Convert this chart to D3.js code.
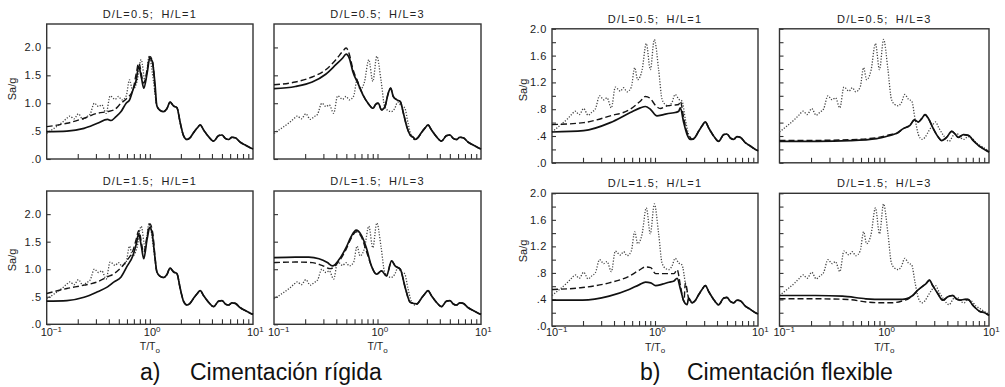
<!DOCTYPE html>
<html>
<head>
<meta charset="utf-8">
<script src="https://cdn.jsdelivr.net/npm/d3@7"></script>
<style>
  body { margin: 0; background: #fff; }
  svg { font-family: "Liberation Sans", Arial, sans-serif; }
</style>
</head>
<body>
<svg id="chart" width="1005" height="387"></svg>
<script>
// ---- data (T/To, Sa/g) ----
// fixed-base spectrum (dotted), same in every panel
const fixedBase = [[0.10,0.46],[0.12,0.56],[0.14,0.65],[0.155,0.72],[0.168,0.77],[0.184,0.72],[0.203,0.81],[0.224,0.71],[0.245,0.76],[0.263,0.80],[0.29,1.00],[0.318,0.94],[0.342,0.97],[0.377,0.82],[0.412,1.13],[0.461,1.07],[0.496,1.12],[0.535,1.06],[0.589,1.13],[0.635,1.42],[0.679,1.24],[0.748,1.38],[0.824,1.78],[0.901,1.39],[0.985,1.84],[1.085,1.39],[1.17,0.95],[1.26,0.87],[1.36,0.85],[1.46,0.90],[1.57,1.02],[1.70,0.95],[1.83,0.92],[1.97,0.65],[2.12,0.42],[2.29,0.35],[2.45,0.38],[2.65,0.47],[2.86,0.55],[3.08,0.61],[3.32,0.52],[3.71,0.40],[4.15,0.32],[4.64,0.42],[5.0,0.43],[5.39,0.37],[5.81,0.35],[6.25,0.39],[6.73,0.38],[7.53,0.30],[8.43,0.25],[9.42,0.20],[10,0.18]];

// a) cimentación rígida
const rigid05h1Solid = [[0.10,0.49],[0.157,0.50],[0.23,0.55],[0.31,0.64],[0.389,0.71],[0.42,0.69],[0.47,0.76],[0.526,0.85],[0.589,1.0],[0.636,1.06],[0.686,1.24],[0.739,1.42],[0.779,1.66],[0.83,1.45],[0.873,1.27],[0.941,1.54],[1.0,1.81],[1.055,1.75],[1.12,1.36]];
const rigid05h1Dashed = [[0.10,0.58],[0.157,0.64],[0.23,0.73],[0.31,0.82],[0.389,0.85],[0.45,0.88],[0.526,1.0],[0.6,1.09],[0.686,1.24],[0.739,1.54],[0.779,1.72],[0.873,1.36],[0.941,1.6],[1.0,1.84],[1.07,1.72],[1.13,1.18]];
const rigid05h3Solid = [[0.10,1.26],[0.161,1.30],[0.234,1.38],[0.316,1.52],[0.396,1.69],[0.461,1.81],[0.497,1.88],[0.536,1.80],[0.577,1.57],[0.646,1.36],[0.723,1.15],[0.81,1.0],[0.907,0.91],[0.96,0.98],[1.016,1.0],[1.094,0.88],[1.18,0.94],[1.27,1.18],[1.34,1.27],[1.42,1.12],[1.54,1.06],[1.66,1.03],[1.78,0.82],[1.92,0.58],[2.07,0.43],[2.24,0.38]];
const rigid05h3Dashed = [[0.10,1.33],[0.161,1.38],[0.234,1.47],[0.316,1.60],[0.396,1.78],[0.461,1.93],[0.497,1.99],[0.536,1.87],[0.577,1.62],[0.646,1.38]];
const rigid15h1Solid = [[0.10,0.42],[0.157,0.43],[0.23,0.49],[0.31,0.59],[0.389,0.68],[0.45,0.77],[0.526,0.86],[0.6,1.05],[0.686,1.25],[0.739,1.46],[0.779,1.64],[0.83,1.40],[0.873,1.19],[0.941,1.55],[1.0,1.76],[1.055,1.64],[1.12,1.22]];
const rigid15h1Dashed = [[0.10,0.56],[0.157,0.65],[0.23,0.71],[0.31,0.77],[0.389,0.86],[0.45,0.92],[0.526,1.03],[0.6,1.16],[0.686,1.34],[0.739,1.55],[0.779,1.70],[0.873,1.31],[0.941,1.61],[1.0,1.82],[1.07,1.64],[1.13,1.16]];
const rigid15h3Solid = [[0.10,1.21],[0.161,1.22],[0.217,1.22],[0.272,1.19],[0.328,1.12],[0.368,1.06],[0.427,1.18],[0.497,1.39],[0.556,1.59],[0.622,1.71],[0.697,1.62],[0.78,1.39],[0.873,1.06],[0.978,0.91],[1.094,0.97],[1.22,0.88],[1.37,1.15],[1.48,1.06],[1.66,1.0],[1.85,0.67],[2.07,0.40],[2.41,0.37]];
const rigid15h3Dashed = [[0.10,1.12],[0.161,1.13],[0.234,1.12],[0.29,1.07],[0.35,1.01],[0.415,1.12],[0.497,1.36],[0.556,1.56],[0.622,1.68],[0.697,1.59],[0.78,1.33]];

// b) cimentación flexible
const flex05h1Solid = [[0.10,0.46],[0.203,0.48],[0.368,0.60],[0.576,0.75],[0.72,0.82],[0.806,0.84],[0.90,0.80],[1.045,0.70],[1.21,0.72],[1.41,0.74],[1.57,0.75],[1.70,0.77],[1.76,0.82],[1.90,0.60],[2.05,0.42],[2.20,0.35]];
const flex05h1Dashed = [[0.10,0.57],[0.203,0.60],[0.368,0.70],[0.576,0.80],[0.72,0.92],[0.806,0.99],[0.90,0.96],[1.008,0.86],[1.127,0.81],[1.31,0.85],[1.52,0.86],[1.70,0.87],[1.76,0.92],[1.90,0.67],[2.05,0.45]];
const flex05h3Solid = [[0.10,0.32],[0.227,0.32],[0.472,0.33],[0.848,0.36],[1.137,0.41],[1.316,0.44],[1.52,0.51],[1.76,0.56],[1.94,0.64],[2.12,0.61],[2.28,0.66],[2.45,0.72],[2.64,0.66],[2.94,0.51],[3.29,0.38],[3.53,0.33],[3.94,0.38],[4.41,0.47],[4.74,0.43],[5.10,0.38],[5.69,0.42],[6.35,0.41],[7.09,0.33],[7.91,0.26],[8.83,0.21],[10,0.16]];
const flex05h3Dashed = [[0.10,0.335],[0.227,0.335],[0.472,0.345],[0.848,0.375],[1.137,0.42]];
const flex15h1Solid = [[0.10,0.39],[0.198,0.39],[0.359,0.45],[0.56,0.55],[0.70,0.62],[0.81,0.66],[0.907,0.65],[1.014,0.61],[1.18,0.63],[1.37,0.66],[1.53,0.68],[1.64,0.72],[1.77,0.55],[1.91,0.37],[2.05,0.32]];
const flex15h1Dashed = [[0.10,0.55],[0.198,0.58],[0.359,0.65],[0.56,0.75],[0.70,0.84],[0.81,0.89],[0.907,0.88],[1.014,0.79],[1.18,0.79],[1.37,0.79],[1.53,0.79],[1.64,0.85],[1.77,0.60],[1.91,0.37]];
const flex15h3Solid = [[0.10,0.46],[0.221,0.46],[0.399,0.45],[0.667,0.41],[0.964,0.40],[1.39,0.40],[1.61,0.41],[1.87,0.46],[2.09,0.54],[2.33,0.60],[2.51,0.64],[2.70,0.69],[2.90,0.61],[3.24,0.49],[3.62,0.39],[4.05,0.44],[4.52,0.46],[4.86,0.41],[5.31,0.39],[5.84,0.40],[6.29,0.40],[7.03,0.31],[8.15,0.22],[9.08,0.20],[10,0.16]];
const flex15h3Dashed = [[0.10,0.41],[0.221,0.41],[0.45,0.40],[0.70,0.36],[0.90,0.35],[1.2,0.35],[1.5,0.38],[1.7,0.41]];

// ticks
const xMinorTicks = [0.2,0.3,0.4,0.5,0.6,0.7,0.8,0.9,1,2,3,4,5,6,7,8,9];
const xDecades = [0.1, 1, 10];
const xDecadeExp = ["\u22121", "0", "1"];
const rigidYTicks = [0, 0.5, 1.0, 1.5, 2.0];
const rigidYLabels = [".0", ".5", "1.0", "1.5", "2.0"];
const flexYTicks = [0, 0.2, 0.4, 0.6, 0.8, 1.0, 1.2, 1.4, 1.6, 1.8, 2.0];
const flexYLabels = [".0", "", ".4", "", ".8", "", "1.2", "", "1.6", "", "2.0"];

// tail of a curve continues on another one
const joinTail = (head, tail) => head.concat(tail.filter(d => d[0] > head[head.length - 1][0] + 0.01));

const axes = {
  rigid: {yMax: 2.42, ticks: rigidYTicks, labels: rigidYLabels},
  flex:  {yMax: 2.0,  ticks: flexYTicks,  labels: flexYLabels}
};

const panels = [
  {title: "D/L=0.5; H/L=1", axis: "rigid", x0: 46.7, x1: 253, y0: 24, y1: 159, yLab: true, xLab: false, labY: 89, labX: 16,
   solid: joinTail(rigid05h1Solid, fixedBase), dashed: joinTail(rigid05h1Dashed, fixedBase)},
  {title: "D/L=0.5; H/L=3", axis: "rigid", x0: 274, x1: 481, y0: 24, y1: 159, yLab: false, xLab: false,
   solid: joinTail(rigid05h3Solid, fixedBase), dashed: joinTail(rigid05h3Dashed, joinTail(rigid05h3Solid, fixedBase))},
  {title: "D/L=1.5; H/L=1", axis: "rigid", x0: 46.7, x1: 253, y0: 191, y1: 324.3, yLab: true, xLab: true, labY: 260, labX: 16, decBase: 335.8, tBase: 350,
   solid: joinTail(rigid15h1Solid, fixedBase), dashed: joinTail(rigid15h1Dashed, fixedBase)},
  {title: "D/L=1.5; H/L=3", axis: "rigid", x0: 274, x1: 481, y0: 191, y1: 324.3, yLab: false, xLab: true, decBase: 335.8, tBase: 350,
   solid: joinTail(rigid15h3Solid, fixedBase), dashed: joinTail(rigid15h3Dashed, joinTail(rigid15h3Solid, fixedBase))},
  {title: "D/L=0.5; H/L=1", axis: "flex", x0: 552, x1: 758, y0: 28.8, y1: 162.8, yLab: true, xLab: false, labY: 90, labX: 527,
   solid: joinTail(flex05h1Solid, fixedBase), dashed: joinTail(flex05h1Dashed, fixedBase)},
  {title: "D/L=0.5; H/L=3", axis: "flex", x0: 779.5, x1: 989, y0: 28.8, y1: 162.8, yLab: false, xLab: false,
   solid: flex05h3Solid, dashed: joinTail(flex05h3Dashed, flex05h3Solid)},
  {title: "D/L=1.5; H/L=1", axis: "flex", x0: 552, x1: 758, y0: 193.3, y1: 326, yLab: true, xLab: true, labY: 251, labX: 527, decBase: 336, tBase: 350.5,
   solid: joinTail(flex15h1Solid, fixedBase), dashed: joinTail(flex15h1Dashed, fixedBase)},
  {title: "D/L=1.5; H/L=3", axis: "flex", x0: 779.5, x1: 989, y0: 193.3, y1: 326, yLab: false, xLab: true, decBase: 336, tBase: 350.5,
   solid: flex15h3Solid, dashed: joinTail(flex15h3Dashed, flex15h3Solid)}
];

const svg = d3.select("#chart");

panels.forEach(p => {
  const ax = axes[p.axis];
  const x = d3.scaleLog().domain([0.1, 10]).range([p.x0, p.x1]);
  const y = d3.scaleLinear().domain([0, ax.yMax]).range([p.y1, p.y0]);
  const g = svg.append("g");

  // title
  g.append("text")
    .attr("x", (p.x0 + p.x1) / 2)
    .attr("y", p.y0 - 6)
    .attr("text-anchor", "middle")
    .style("font-size", "11px")
    .style("letter-spacing", "1.2px")
    .style("word-spacing", "3px")
    .attr("fill", "#222")
    .text(p.title);

  // y axis, ticks inward
  const yAxis = g.append("g")
    .attr("transform", `translate(${p.x0},0)`)
    .call(d3.axisLeft(y).tickValues(ax.ticks).tickSize(-4).tickPadding(5)
      .tickFormat((d, i) => p.yLab ? ax.labels[i] : ""));
  yAxis.select(".domain").remove();
  yAxis.selectAll("line").attr("stroke", "#333").attr("stroke-width", 1.1);
  yAxis.selectAll("text")
    .attr("fill", "#222")
    .style("font-family", "'Liberation Sans', Arial, sans-serif")
    .style("font-size", "11px")
    .style("letter-spacing", "0.6px");

  // x axis, ticks inward
  const xAxis = g.append("g")
    .attr("transform", `translate(0,${p.y1})`)
    .call(d3.axisBottom(x).tickValues(xMinorTicks).tickSize(-5).tickFormat(() => ""));
  xAxis.select(".domain").remove();
  xAxis.selectAll("line").attr("stroke", "#333").attr("stroke-width", 1.1);

  // frame
  g.append("rect")
    .attr("x", p.x0).attr("y", p.y0)
    .attr("width", p.x1 - p.x0).attr("height", p.y1 - p.y0)
    .attr("fill", "none").attr("stroke", "#333").attr("stroke-width", 1.4);

  const line = d3.line()
    .x(d => x(d[0]))
    .y(d => y(d[1]))
    .curve(d3.curveMonotoneX);

  g.append("path").datum(fixedBase).attr("d", line)
    .attr("fill", "none").attr("stroke", "#444").attr("stroke-width", 1.3)
    .attr("stroke-dasharray", "1.2,1.6");
  g.append("path").datum(p.dashed).attr("d", line)
    .attr("fill", "none").attr("stroke", "#151515").attr("stroke-width", 1.4)
    .attr("stroke-dasharray", "6,3");
  g.append("path").datum(p.solid).attr("d", line)
    .attr("fill", "none").attr("stroke", "#111").attr("stroke-width", 1.7);

  // y label
  if (p.yLab) {
    g.append("text")
      .attr("transform", `translate(${p.labX},${p.labY}) rotate(-90)`)
      .attr("text-anchor", "middle")
      .style("font-size", "11px")
      .attr("fill", "#222")
      .text("Sa/g");
  }

  // decade labels ("10" centred on the tick) and T/To
  if (p.xLab) {
    xDecades.forEach((v, i) => {
      const t = g.append("text")
        .attr("x", x(v) - 6)
        .attr("y", p.decBase)
        .attr("fill", "#222")
        .style("font-size", "11px");
      t.append("tspan").text("10");
      t.append("tspan").attr("dy", -4).style("font-size", "8px").text(xDecadeExp[i]);
    });
    const tl = g.append("text")
      .attr("x", x(1))
      .attr("y", p.tBase)
      .attr("text-anchor", "middle")
      .attr("fill", "#222")
      .style("font-size", "10.5px");
    tl.append("tspan").text("T/T");
    tl.append("tspan").attr("dy", 2.5).style("font-size", "8px").text("o");
  }
});

// captions
const captions = [
  {x: 140, label: "a)", tx: 190, text: "Cimentación rígida"},
  {x: 640, label: "b)", tx: 687, text: "Cimentación flexible"}
];
captions.forEach(c => {
  svg.append("text").attr("x", c.x).attr("y", 380)
    .style("font-size", "23px").attr("fill", "#111").text(c.label);
  svg.append("text").attr("x", c.tx).attr("y", 380)
    .style("font-size", "23px").attr("fill", "#111").text(c.text);
});
</script>
</body>
</html>
